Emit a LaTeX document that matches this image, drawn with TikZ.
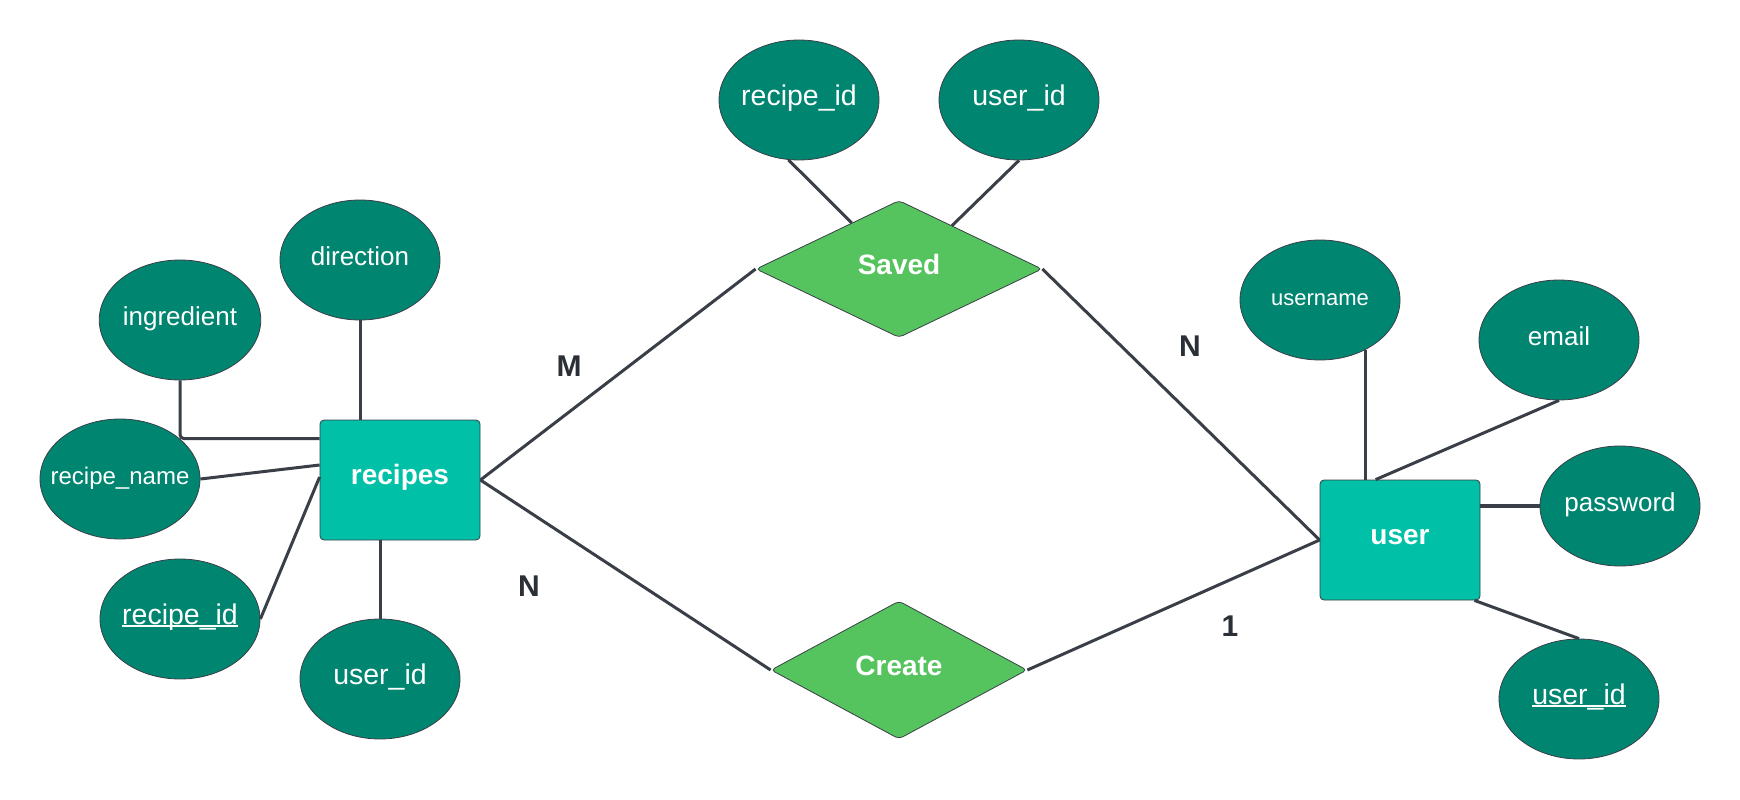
\documentclass[tikz,border=0pt]{standalone}
\usepackage{fontspec}
\setmainfont{Liberation Sans}
\usetikzlibrary{shapes.geometric,calc}
\definecolor{attrfill}{HTML}{008571}
\definecolor{entfill}{HTML}{00C1A7}
\definecolor{relfill}{HTML}{55C45E}
\definecolor{linecol}{HTML}{3A3F47}
\definecolor{lblcol}{HTML}{2B2F36}
\newcommand\keyul[1]{\setbox0=\hbox{#1}\leavevmode\rlap{\rule[-3pt]{\wd0}{1.8pt}}\box0}
\begin{document}
\begin{tikzpicture}[x=1pt,y=-1pt,
 attrib/.style={ellipse, fill=attrfill, draw=linecol, line width=0.8pt, minimum width=160pt, minimum height=120pt, inner sep=0pt, text=white, text height=20pt, text depth=9pt, font=\fontsize{26}{30}\selectfont},
 bigattr/.style={attrib, text height=20pt, text depth=10pt, font=\fontsize{28.5}{32}\selectfont},
 entity/.style={rectangle, rounded corners=4pt, fill=entfill, draw=linecol, line width=0.8pt, minimum width=160pt, minimum height=120pt, inner sep=0pt, text=white, text height=20pt, text depth=11pt, font=\bfseries\fontsize{28}{32}\selectfont},
 relation/.style={diamond, rounded corners=4pt, fill=relfill, draw=linecol, line width=0.8pt, inner sep=0pt, text=white, text height=20pt, text depth=10pt, font=\bfseries\fontsize{28}{32}\selectfont},
 conn/.style={draw=linecol, line width=3pt},
 card/.style={text=lblcol, font=\bfseries\fontsize{30}{34}\selectfont}
]
\useasboundingbox (0,0) rectangle (1740,800);
\fill[white] (0,0) rectangle (1740,800);

\node[bigattr] (srid) at (799,100) {\makebox[0pt]{recipe\_id}};
\node[bigattr] (suid) at (1019,100) {user\_id};
\node[relation, minimum width=286pt, minimum height=137pt] (saved) at (899,269) {Saved};
\node[relation, minimum width=256pt, minimum height=138pt] (create) at (899,670) {Create};
\node[entity] (recipes) at (400,480) {recipes};
\node[entity] (user) at (1400,540) {user};
\node[attrib] (dir) at (360,260) {direction};
\node[attrib] (ing) at (180,320) {ingredient};
\node[attrib, font=\fontsize{24}{28}\selectfont] (rname) at (120,479) {\makebox[0pt]{recipe\_name}};
\node[bigattr] (rid) at (180,619) {\makebox[0pt]{\keyul{recipe\_id}}};
\node[bigattr] (ruid) at (380,679) {user\_id};
\node[attrib, font=\fontsize{22}{26}\selectfont] (uname) at (1320,300) {username};
\node[attrib] (email) at (1559,340) {email};
\node[attrib] (pass) at (1620,506) {password};
\node[bigattr] (uid) at (1579,699) {\keyul{user\_id}};

\draw[conn] (srid.-100) -- ($(saved.west)!0.67!(saved.north)$);
\draw[conn] (suid.south) -- ($(saved.north)!0.37!(saved.east)$);
\draw[conn, rounded corners=4pt] (ing.south) |- ($(recipes.north west)+(0,19)$);
\draw[conn] (dir.south) -- (dir.south |- recipes.north);
\draw[conn] (rname.east) -- ($(recipes.west)+(0,-15)$);
\draw[conn] ($(recipes.west)+(0,-3)$) -- (rid.east);
\draw[conn] (ruid.north |- recipes.south) -- (ruid.north);
\draw[conn] (recipes.east) -- (saved.west);
\draw[conn] (recipes.east) -- (create.west);
\draw[conn] (saved.east) -- (user.west);
\draw[conn] (create.east) -- (user.west);
\draw[conn] (uname.-48) -- (uname.-48 |- user.north);
\draw[conn] (email.south) -- ($(user.north west)+(56,0)$);
\draw[conn, line width=4pt] (pass.west) -- (pass.west -| user.east);
\draw[conn] ($(user.south east)+(-6,0)$) -- (uid.north);

\node[card] (lm) at (569,366) {M};
\node[card] (lna) at (529,586) {N};
\node[card] (lnb) at (1190,346) {N};
\node[card] (lone) at (1230,626) {1};
\end{tikzpicture}
\end{document}
